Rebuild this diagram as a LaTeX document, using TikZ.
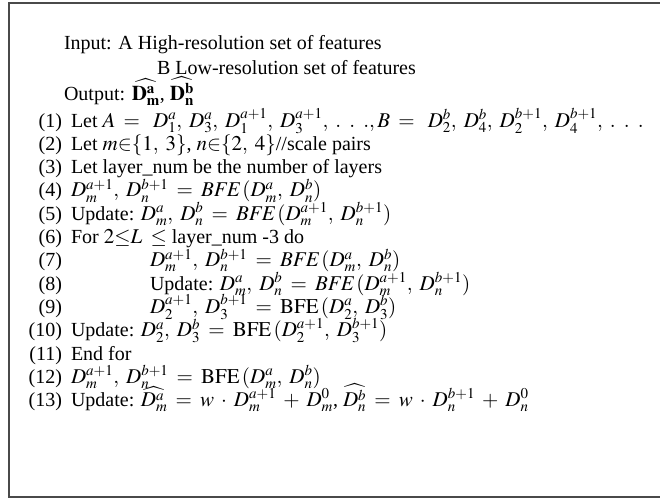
\documentclass[tikz,border=0pt]{standalone}
\usepackage{mathptmx}
\usepackage[no-math]{fontspec}
\setmainfont{Liberation Serif}
\DeclareMathSizes{20}{21}{15}{11}
\definecolor{framecol}{HTML}{4A4A4A}
% wide-spaced ellipsis and a comma followed by a thin gap
\newcommand{\wdots}{.\mkern7mu.\mkern7mu.}
\newcommand{\cm}{,\mkern4mu}
\begin{document}
\medmuskip=6mu plus 2mu minus 2mu\relax
\thickmuskip=7mu plus 3mu\relax
\begin{tikzpicture}[x=1pt,y=-1pt,
  every node/.style={inner sep=0pt, outer sep=0pt, font=\fontsize{20}{24}\selectfont},
  lbl/.style={anchor=base east},
  txt/.style={anchor=base west}]
\useasboundingbox (0,0) rectangle (660,500);
% outer frame (right edge lies past the page)
\draw[framecol, line width=1.3pt] (9,3) rectangle (700,497);

% header
\node[txt] (inp)  at (64,50)  {Input: A High-resolution set of features};
\node[txt] (inpb) at (157,75) {B Low-resolution set of features};
\node[txt] (outp) at (64,100) {Output: $\widehat{\mathbf{D}^{\mathbf{a}}_{\mathbf{m}}}$, $\widehat{\mathbf{D}^{\mathbf{b}}_{\mathbf{n}}}$};

% numbered steps
\node[lbl] (l1)  at (62,127.0) {(1)};
\node[txt] (s1)  at (71,127.0) {Let $A = \ D^a_1\cm D^a_3\cm D^{a+1}_1\cm D^{a+1}_3\cm \wdots, B = \ D^b_2\cm D^b_4\cm D^{b+1}_2\cm D^{b+1}_4\cm \wdots$};
\node[lbl] (l2)  at (62,150.3) {(2)};
\node[txt] (s2)  at (71,150.3) {Let $m{\in}\{1\cm 3\}$, $n{\in}\{2\cm 4\}$//scale pairs};
\node[lbl] (l3)  at (62,173.6) {(3)};
\node[txt] (s3)  at (71,173.6) {Let layer\_num be the number of layers};
\node[lbl] (l4)  at (62,196.9) {(4)};
\node[txt] (s4)  at (71,196.9) {$D^{a+1}_m\cm D^{b+1}_n = \mathit{BFE}\,(D^a_m\cm D^b_n)$};
\node[lbl] (l5)  at (62,220.2) {(5)};
\node[txt] (s5)  at (71,220.2) {Update: $D^a_m\cm D^b_n = \mathit{BFE}\,(D^{a+1}_m\cm D^{b+1}_n)$};
\node[lbl] (l6)  at (62,243.5) {(6)};
\node[txt] (s6)  at (71,243.5) {For $2{\leq}L \leq$ layer\_num -3 do};
\node[lbl] (l7)  at (62,266.8) {(7)};
\node[txt] (s7)  at (150,266.8) {$D^{a+1}_m\cm D^{b+1}_n = \mathit{BFE}\,(D^a_m\cm D^b_n)$};
\node[lbl] (l8)  at (62,290.1) {(8)};
\node[txt] (s8)  at (150,290.1) {Update: $D^a_m\cm D^b_n = \mathit{BFE}\,(D^{a+1}_m\cm D^{b+1}_n)$};
\node[lbl] (l9)  at (62,313.4) {(9)};
\node[txt] (s9)  at (150,313.4) {$D^{a+1}_2\cm D^{b+1}_3 = \mathrm{BFE}\,(D^a_2\cm D^b_3)$};
\node[lbl] (l10) at (62,336.7) {(10)};
\node[txt] (s10) at (71,336.7) {Update: $D^a_2\cm D^b_3 = \mathrm{BFE}\,(D^{a+1}_2\cm D^{b+1}_3)$};
\node[lbl] (l11) at (62,360.0) {(11)};
\node[txt] (s11) at (71,360.0) {End for};
\node[lbl] (l12) at (62,383.3) {(12)};
\node[txt] (s12) at (71,383.3) {$D^{a+1}_m\cm D^{b+1}_n = \mathrm{BFE}\,(D^a_m\cm D^b_n)$};
\node[lbl] (l13) at (62,406.6) {(13)};
\node[txt] (s13) at (71,406.6) {Update: $\widehat{D^a_m} = w\cdot D^{a+1}_m + D^0_m$,\ $\widehat{D^b_n} = w\cdot D^{b+1}_n + D^0_n$};
\end{tikzpicture}
\end{document}
